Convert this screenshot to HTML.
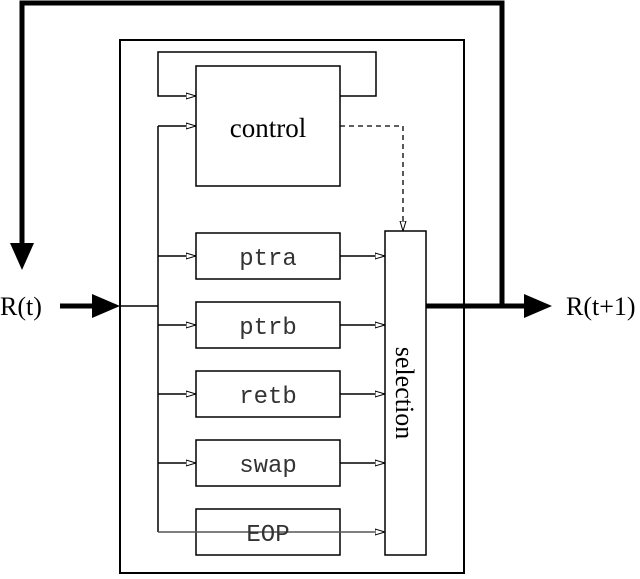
<!DOCTYPE html><html><head><style>body{margin:0;background:#fff}</style></head><body>
<svg width="640" height="574" viewBox="0 0 640 574" xmlns="http://www.w3.org/2000/svg">
<defs>
<marker id="a" markerWidth="10" markerHeight="8" refX="10" refY="4" orient="auto" markerUnits="userSpaceOnUse"><path d="M0,1 L10,4 L0,7 Z" fill="#fff" stroke="#000" stroke-width="1"/></marker>
</defs>
<g fill="none" stroke="#000">
<polyline points="22,245 22,3 502,3 502,306" stroke-width="5"/>
<path d="M10,243 L34,243 L22,270 Z" fill="#000" stroke="none"/>
<line x1="60" y1="306" x2="95" y2="306" stroke-width="5"/>
<path d="M92,294 L120,306 L92,318 Z" fill="#000" stroke="none"/>
<line x1="426" y1="306" x2="528" y2="306" stroke-width="5"/>
<path d="M524,294 L552,306 L524,318 Z" fill="#000" stroke="none"/>
<rect x="120" y="40" width="344" height="533" stroke-width="2"/>
<rect x="196" y="66" width="144" height="120" stroke-width="1.5"/>
<polyline points="340,96 376,96 376,52 158,52 158,96 196,96" stroke-width="1.5" marker-end="url(#a)"/>
<line x1="120" y1="306" x2="158" y2="306" stroke-width="1.5"/>
<line x1="158" y1="126" x2="158" y2="532" stroke-width="1.5"/>
<line x1="158" y1="126" x2="196" y2="126" stroke-width="1.5" marker-end="url(#a)"/>
<polyline points="340,126 403,126 403,231" stroke-width="1.3" stroke-dasharray="5,4" marker-end="url(#a)"/>
<rect x="385" y="231" width="41" height="324" stroke-width="1.5"/>
<g stroke-width="1.5">
<rect x="196" y="233" width="144" height="46"/><rect x="196" y="302" width="144" height="46"/><rect x="196" y="371" width="144" height="46"/><rect x="196" y="440" width="144" height="46"/><rect x="196" y="509" width="144" height="46"/>
<line x1="158" y1="256" x2="196" y2="256" marker-end="url(#a)"/><line x1="340" y1="256" x2="385" y2="256" marker-end="url(#a)"/>
<line x1="158" y1="325" x2="196" y2="325" marker-end="url(#a)"/><line x1="340" y1="325" x2="385" y2="325" marker-end="url(#a)"/>
<line x1="158" y1="394" x2="196" y2="394" marker-end="url(#a)"/><line x1="340" y1="394" x2="385" y2="394" marker-end="url(#a)"/>
<line x1="158" y1="463" x2="196" y2="463" marker-end="url(#a)"/><line x1="340" y1="463" x2="385" y2="463" marker-end="url(#a)"/>
<line x1="158" y1="532" x2="385" y2="532" marker-end="url(#a)" stroke="#555"/>
</g>
</g>
<g font-family="Liberation Serif, serif" fill="#000">
<text x="268" y="137" text-anchor="middle" font-size="27">control</text>
<text x="0" y="315" font-size="26">R(t)</text>
<text x="566" y="315" font-size="26">R(t+1)</text>
<text transform="translate(396,393) rotate(90)" text-anchor="middle" font-size="26">selection</text>
</g>
<g font-family="Liberation Mono, monospace" font-size="24" fill="#333" text-anchor="middle">
<text x="268" y="265">ptra</text><text x="268" y="334">ptrb</text><text x="268" y="403">retb</text><text x="268" y="472">swap</text><text x="268" y="541">EOP</text>
</g>
</svg>
</body></html>
